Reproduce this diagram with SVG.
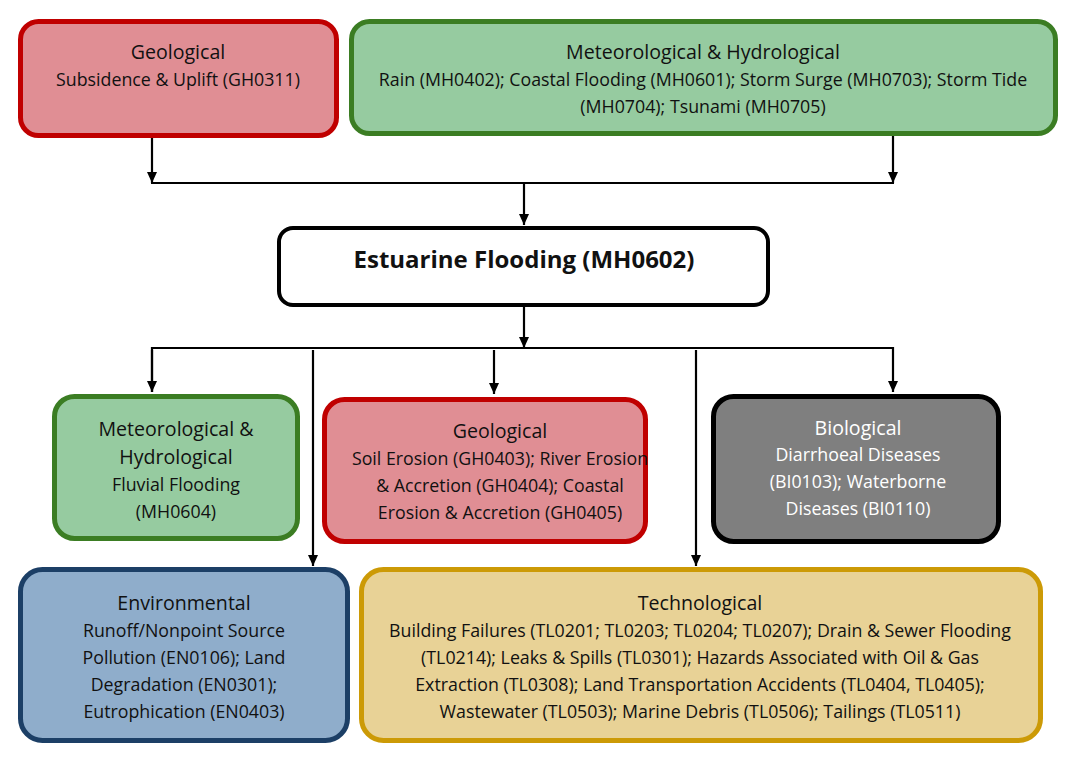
<svg xmlns="http://www.w3.org/2000/svg" width="1065" height="762" viewBox="0 0 1065 762">
<defs>
<style>
text{font-family:"Open Sans","Liberation Sans",sans-serif;text-anchor:middle;fill:#111}
.t{font-size:19.6px}
.b{font-size:17.8px}
.w{fill:#fff}
.big{font-size:24px;font-weight:bold}
.red rect{fill:#E08E94;stroke:#C00000;stroke-width:5}
.grn rect{fill:#96CBA0;stroke:#3B7D23;stroke-width:5}
.gry rect{fill:#7F7F7F;stroke:#000;stroke-width:5}
.blu rect{fill:#8FADCB;stroke:#1C3F66;stroke-width:5}
.yel rect{fill:#E8D296;stroke:#CC9A06;stroke-width:5}
.wht rect{fill:#fff;stroke:#000;stroke-width:4}
.c{fill:none;stroke:#000;stroke-width:2.2}
</style>
<marker id="ah" viewBox="0 0 10 10" refX="10" refY="5" markerWidth="11" markerHeight="10" orient="auto" markerUnits="userSpaceOnUse" preserveAspectRatio="none">
<path d="M0,0 L10,5 L0,10 Z" fill="#000"/>
</marker>
</defs>
<rect width="1065" height="762" fill="#fff"/>
<g id="connectors">
<line class="c" x1="152" y1="137" x2="152" y2="183" marker-end="url(#ah)"/>
<line class="c" x1="893" y1="135" x2="893" y2="183" marker-end="url(#ah)"/>
<line class="c" x1="151" y1="183" x2="894" y2="183"/>
<line class="c" x1="524" y1="183" x2="524" y2="225" marker-end="url(#ah)"/>
<line class="c" x1="524" y1="307" x2="524" y2="348" marker-end="url(#ah)"/>
<polyline class="c" points="152,392 152,348 893,348 893,392" marker-end="url(#ah)"/>
<line class="c" x1="152" y1="350" x2="152" y2="392" marker-end="url(#ah)"/>
<line class="c" x1="494" y1="350" x2="494" y2="394" marker-end="url(#ah)"/>
<line class="c" x1="313" y1="350" x2="313" y2="566" marker-end="url(#ah)"/>
<line class="c" x1="696" y1="350" x2="696" y2="566" marker-end="url(#ah)"/>
</g>
<g id="geo-top" class="red">
<rect x="20.5" y="21.5" width="316" height="114" rx="18"/>
<text class="t" x="178" y="59">Geological</text>
<text class="b" x="178" y="86">Subsidence &amp; Uplift (GH0311)</text>
</g>
<g id="met-top" class="grn">
<rect x="351.5" y="21.5" width="704" height="112" rx="18"/>
<text class="t" x="703" y="59">Meteorological &amp; Hydrological</text>
<text class="b" x="703" y="86">Rain (MH0402); Coastal Flooding (MH0601); Storm Surge (MH0703); Storm Tide</text>
<text class="b" x="703" y="113">(MH0704); Tsunami (MH0705)</text>
</g>
<g id="estuarine" class="wht">
<rect x="279" y="228" width="489" height="77" rx="14"/>
<text class="big" x="524" y="268">Estuarine Flooding (MH0602)</text>
</g>
<g id="met-mid" class="grn">
<rect x="54.5" y="396.5" width="243" height="142" rx="20"/>
<text class="t" x="176" y="436">Meteorological &amp;</text>
<text class="t" x="176" y="464">Hydrological</text>
<text class="b" x="176" y="491">Fluvial Flooding</text>
<text class="b" x="176" y="518">(MH0604)</text>
</g>
<g id="geo-mid" class="red">
<rect x="324.5" y="399.5" width="321" height="142" rx="20"/>
<text class="t" x="500" y="438">Geological</text>
<text class="b" x="500" y="465">Soil Erosion (GH0403); River Erosion</text>
<text class="b" x="500" y="492">&amp; Accretion (GH0404); Coastal</text>
<text class="b" x="500" y="519">Erosion &amp; Accretion (GH0405)</text>
</g>
<g id="bio" class="gry">
<rect x="713.5" y="396.5" width="285" height="145" rx="20"/>
<text class="t w" x="858" y="435">Biological</text>
<text class="b w" x="858" y="461">Diarrhoeal Diseases</text>
<text class="b w" x="858" y="488">(BI0103); Waterborne</text>
<text class="b w" x="858" y="515">Diseases (BI0110)</text>
</g>
<g id="env" class="blu">
<rect x="20.5" y="569.5" width="327" height="171" rx="22"/>
<text class="t" x="184" y="610">Environmental</text>
<text class="b" x="184" y="637">Runoff/Nonpoint Source</text>
<text class="b" x="184" y="664">Pollution (EN0106); Land</text>
<text class="b" x="184" y="691">Degradation (EN0301);</text>
<text class="b" x="184" y="718">Eutrophication (EN0403)</text>
</g>
<g id="tech" class="yel">
<rect x="361.5" y="569.5" width="679" height="171" rx="22"/>
<text class="t" x="700" y="610">Technological</text>
<text class="b" x="700" y="637">Building Failures (TL0201; TL0203; TL0204; TL0207); Drain &amp; Sewer Flooding</text>
<text class="b" x="700" y="664">(TL0214); Leaks &amp; Spills (TL0301); Hazards Associated with Oil &amp; Gas</text>
<text class="b" x="700" y="691">Extraction (TL0308); Land Transportation Accidents (TL0404, TL0405);</text>
<text class="b" x="700" y="718">Wastewater (TL0503); Marine Debris (TL0506); Tailings (TL0511)</text>
</g>
</svg>
